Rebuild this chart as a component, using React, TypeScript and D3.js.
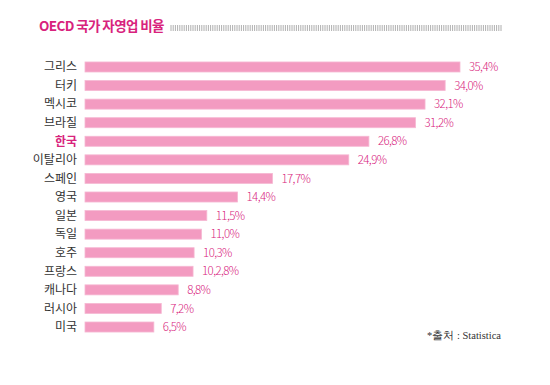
import React, {useEffect, useRef} from "react";
import * as d3 from "d3";

const countries = ["그리스", "터키", "멕시코", "브라질", "한국", "이탈리아", "스페인", "영국", "일본", "독일", "호주", "프랑스", "캐나다", "러시아", "미국"];
const rates = [35.4, 34.0, 32.1, 31.2, 26.8, 24.9, 17.7, 14.4, 11.5, 11.0, 10.3, 10.2, 8.8, 7.2, 6.5];
const valueLabels = ["35,4%", "34,0%", "32,1%", "31,2%", "26,8%", "24,9%", "17,7%", "14,4%", "11,5%", "11,0%", "10,3%", "10,2,8%", "8,8%", "7,2%", "6,5%"];
const highlight = "한국";

const PINK = "#d8237d";
const BAR = "#f39bc1";

const App: React.FC = () => {
    const svgRef = useRef<SVGSVGElement | null>(null);

    useEffect(() => {
        if (!svgRef.current) return;
        const svg = d3.select(svgRef.current);
        svg.selectAll("*").remove();

        const width = 550;
        const height = 385;
        const sans = "'Noto Sans CJK KR', 'Noto Sans', sans-serif";

        svg.append("rect").attr("width", width).attr("height", height).attr("fill", "#fff");

        // title
        svg.append("text")
            .attr("x", 39)
            .attr("y", 31)
            .attr("font-family", sans)
            .attr("font-size", 13.5)
            .attr("font-weight", "bold")
            .attr("letter-spacing", -0.6)
            .attr("fill", PINK)
            .text("OECD 국가 자영업 비율");

        // hatched rule next to the title
        const ticks = d3.range(171, 502, 2.2);
        svg.append("g")
            .selectAll("line")
            .data(ticks)
            .join("line")
            .attr("x1", (d) => d)
            .attr("x2", (d) => d)
            .attr("y1", 25)
            .attr("y2", 31)
            .attr("stroke", "#9a9a9a")
            .attr("stroke-width", 0.8);

        const x = d3.scaleLinear().domain([0, 35.4]).range([85, 460]);
        const y = d3.scaleBand()
            .domain(countries)
            .range([57.7, 336.3])
            .paddingInner(0.46)
            .paddingOuter(0.23);

        const rows = svg.append("g")
            .selectAll("g")
            .data(countries.map((c, i) => ({c, v: rates[i], label: valueLabels[i]})))
            .join("g");

        rows.append("rect")
            .attr("x", x(0))
            .attr("y", (d) => y(d.c) || 0)
            .attr("width", (d) => x(d.v) - x(0))
            .attr("height", y.bandwidth())
            .attr("fill", BAR)
            .attr("stroke", "#f6b8d3")
            .attr("stroke-width", 0.8);

        rows.append("text")
            .attr("x", 77)
            .attr("y", (d) => (y(d.c) || 0) + y.bandwidth() / 2)
            .attr("dy", "0.36em")
            .attr("text-anchor", "end")
            .attr("font-family", sans)
            .attr("font-size", 12)
            .attr("font-weight", (d) => (d.c === highlight ? "bold" : "normal"))
            .attr("fill", (d) => (d.c === highlight ? PINK : "#333"))
            .text((d) => d.c);

        rows.append("text")
            .attr("x", (d) => x(d.v) + 9)
            .attr("y", (d) => (y(d.c) || 0) + y.bandwidth() / 2)
            .attr("dy", "0.36em")
            .attr("font-family", sans)
            .attr("font-size", 11.5)
            .attr("font-weight", 300)
            .attr("letter-spacing", -0.6)
            .attr("fill", PINK)
            .text((d) => d.label);

        // source
        svg.append("text")
            .attr("x", 501)
            .attr("y", 339)
            .attr("text-anchor", "end")
            .attr("font-family", "'Liberation Serif', serif")
            .attr("font-size", 10.5)
            .attr("fill", "#333")
            .text("*출처 : Statistica");
    }, []);

    return (
        <svg
            ref={svgRef}
            width={550}
            height={385}
            viewBox="0 0 550 385"
            style={{position: "absolute", left: 0, top: 0}}
        ></svg>
    );
};

export default App;
